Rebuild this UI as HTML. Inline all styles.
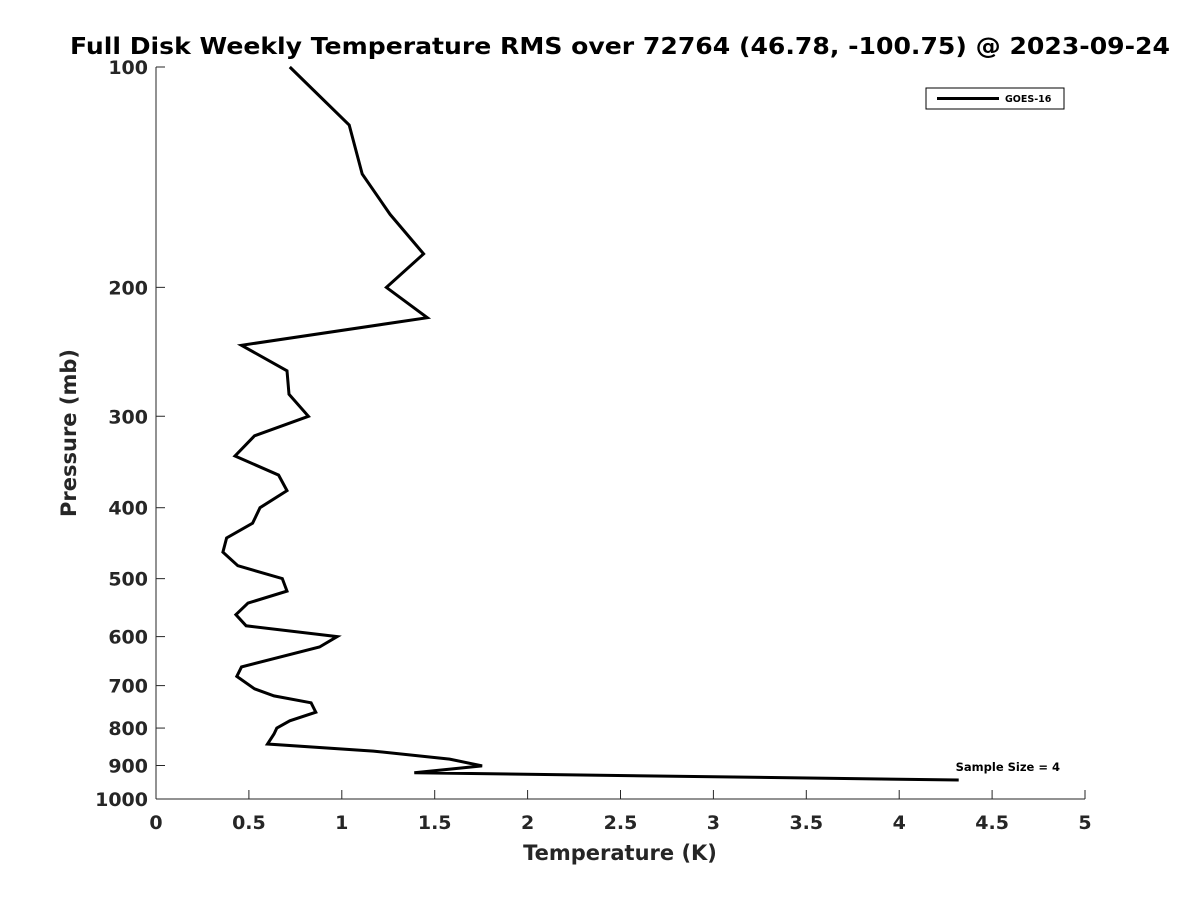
<!DOCTYPE html>
<html><head><meta charset="utf-8"><style>
body{margin:0;background:#fff;}
svg text{font-family:"DejaVu Sans","Liberation Sans",sans-serif;font-weight:bold;fill:#262626;}
</style></head><body>
<svg id="chart" width="1200" height="900" xmlns="http://www.w3.org/2000/svg">
<rect width="1200" height="900" fill="#fff"/>
<text x="70" y="54" font-size="23" textLength="1100" lengthAdjust="spacingAndGlyphs" style="fill:#000">Full Disk Weekly Temperature RMS over 72764 (46.78, -100.75) @ 2023-09-24</text>
<g id="axes"></g>
<path id="series" fill="none" stroke="#000" stroke-width="3" stroke-linejoin="miter"/>
<text x="1060" y="771" text-anchor="end" font-size="11.5" style="fill:#000">Sample Size = 4</text>
<g>
<rect x="926" y="88" width="138" height="21" fill="#fff" stroke="#000" stroke-width="1"/>
<line x1="937" y1="98.5" x2="999" y2="98.5" stroke="#000" stroke-width="3"/>
<text x="1005" y="102" font-size="9.5" style="fill:#000">GOES-16</text>
</g>
<text x="620" y="860" text-anchor="middle" font-size="21">Temperature (K)</text>
<text transform="translate(76,433) rotate(-90)" text-anchor="middle" font-size="21">Pressure (mb)</text>
</svg>
<script>
const pressures=[100,120,140,159,180,200,220,240,260,280,300,319,340,361,379,400,420,440,460,480,500,520,540,560,580,600,620,660,680,707,723,739,761,782,800,815,841,860,882,901,921,942];
const temps=[0.72,1.04,1.11,1.26,1.44,1.24,1.46,0.46,0.705,0.716,0.82,0.53,0.425,0.66,0.705,0.56,0.52,0.38,0.36,0.44,0.68,0.705,0.495,0.43,0.485,0.975,0.88,0.46,0.435,0.53,0.635,0.835,0.86,0.72,0.65,0.635,0.60,1.17,1.58,1.755,1.39,4.32];
const xTicks=[0,0.5,1,1.5,2,2.5,3,3.5,4,4.5,5];
const yTicks=[100,200,300,400,500,600,700,800,900,1000];
const X0=156,X1=1085,Y0=67,Y1=799;
function xs(v){return X0+(v/5)*(X1-X0);}
function ys(p){return Y0+Math.log10(p/100)*(Y1-Y0);}
const NS="http://www.w3.org/2000/svg";
const ax=document.getElementById('axes');
function mk(t,a){const e=document.createElementNS(NS,t);for(const k in a)e.setAttribute(k,a[k]);return e;}
const yl=mk('line',{x1:X0,y1:Y0,x2:X0,y2:Y1,stroke:'#262626','stroke-width':1});


ax.appendChild(yl);
const xl=mk('line',{x1:X0,y1:Y1,x2:X1,y2:Y1,stroke:'#262626','stroke-width':1});


ax.appendChild(xl);
xTicks.forEach(v=>{const x=xs(v);
const t=mk('line',{x1:x,y1:Y1,x2:x,y2:Y1-9,stroke:'#262626','stroke-width':1});


ax.appendChild(t);
const l=mk('text',{x:x,y:Y1+30,'text-anchor':'middle','font-size':19});l.textContent=String(v);


ax.appendChild(l);});
yTicks.forEach(p=>{const y=ys(p);
const t=mk('line',{x1:X0,y1:y,x2:X0+9,y2:y,stroke:'#262626','stroke-width':1});


ax.appendChild(t);
const l=mk('text',{x:X0-8,y:y+7,'text-anchor':'end','font-size':19});l.textContent=String(p);


ax.appendChild(l);});
document.getElementById('series').setAttribute('d',pressures.map((p,i)=>(i?'L':'M')+xs(temps[i]).toFixed(1)+','+ys(p).toFixed(1)).join(''));
</script>
</body></html>
